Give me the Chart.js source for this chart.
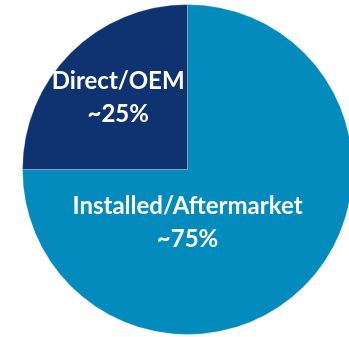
<!DOCTYPE html>
<html>
<head>
<meta charset="utf-8">
<script src="https://cdn.jsdelivr.net/npm/chart.js@4"></script>
<style>
  html, body { margin: 0; padding: 0; background: #ffffff; overflow: hidden; }
  #wrap { position: absolute; left: 0; top: 0; width: 375px; height: 339px; }
</style>
</head>
<body>
<div id="wrap"><canvas id="pie"></canvas></div>
<script>
// Market split by channel
const categories = ['Installed/Aftermarket', 'Direct/OEM'];
const shares = [75, 25];
const shareLabels = ['~75%', '~25%'];
const sliceColors = ['#038BBE', '#0E3370'];

// Label anchor per slice, as fractions of the radius from the centre
const labelAnchors = [
  { dx: 0.0, dy: 0.322 },
  { dx: -0.42, dy: -0.432 }
];

const sliceLabels = {
  id: 'sliceLabels',
  afterDatasetsDraw(chart) {
    const ctx = chart.ctx;
    const arcs = chart.getDatasetMeta(0).data;
    ctx.save();
    ctx.fillStyle = '#ffffff';
    ctx.textAlign = 'center';
    ctx.textBaseline = 'middle';
    ctx.font = 'bold 24px Lato, "Open Sans", sans-serif';
    arcs.forEach((arc, i) => {
      const r = arc.outerRadius;
      const x = arc.x + labelAnchors[i].dx * r;
      const y = arc.y + labelAnchors[i].dy * r;
      ctx.fillText(categories[i], x, y - 16.5);
      ctx.fillText(shareLabels[i], x, y + 16.5);
    });
    ctx.restore();
  }
};

new Chart(document.getElementById('pie'), {
  type: 'pie',
  data: {
    labels: categories,
    datasets: [{
      data: shares,
      backgroundColor: sliceColors,
      borderColor: 'rgba(255,255,255,0.25)',
      borderWidth: 1
    }]
  },
  options: {
    responsive: true,
    maintainAspectRatio: false,
    animation: false,
    layout: { padding: 4 },
    plugins: {
      legend: { display: false },
      tooltip: { enabled: false }
    }
  },
  plugins: [sliceLabels]
});
</script>
</body>
</html>
